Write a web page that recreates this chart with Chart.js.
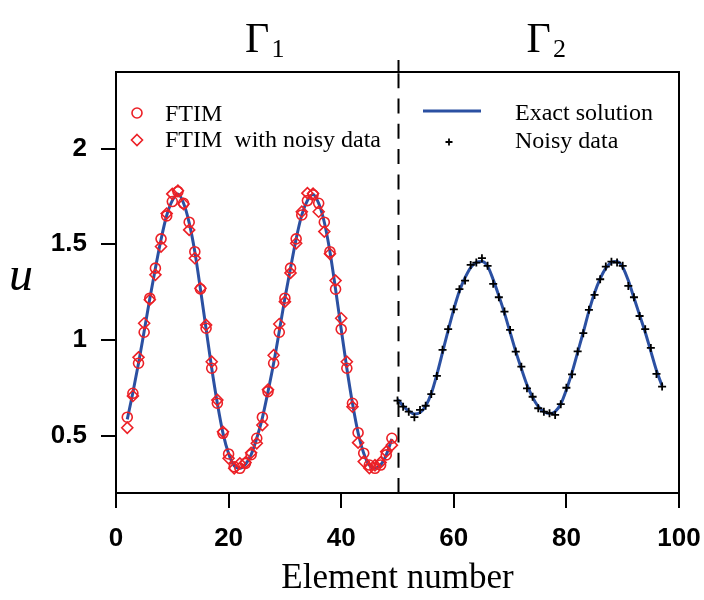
<!DOCTYPE html>
<html>
<head>
<meta charset="utf-8">
<script src="https://cdn.jsdelivr.net/npm/chart.js@4/dist/chart.umd.min.js"></script>
<style>
  html, body { margin: 0; padding: 0; background: #ffffff; }
  #wrap { width: 704px; height: 600px; }
</style>
</head>
<body>
<div id="wrap"><canvas id="c" width="704" height="600"></canvas></div>
<script>
// ---- data ----
const g1Elements = [2,3,4,5,6,7,8,9,10,11,12,13,14,15,16,17,18,19,20,21,22,23,24,25,
                    26,27,28,29,30,31,32,33,34,35,36,37,38,39,40,41,42,43,44,45,46,47,48,49];
const g2Elements = [50,51,52,53,54,55,56,57,58,59,60,61,62,63,64,65,66,67,68,69,70,71,72,73,
                    74,75,76,77,78,79,80,81,82,83,84,85,86,87,88,89,90,91,92,93,94,95,96,97];

const exactG1 = [0.585,0.725,0.878,1.045,1.215,1.375,1.525,1.65,1.728,1.762,1.714,1.612,1.461,1.265,1.058,0.852,0.669,0.513,0.406,0.342,0.329,0.35,0.40,0.486,
                 0.593,0.73,0.878,1.045,1.218,1.375,1.528,1.653,1.728,1.76,1.714,1.615,1.461,1.265,1.056,0.852,0.669,0.515,0.408,0.346,0.329,0.346,0.399,0.482];
const exactG2 = [0.69,0.655,0.628,0.613,0.62,0.655,0.72,0.82,0.935,1.05,1.16,1.255,1.325,1.378,1.405,1.41,1.385,1.315,1.23,1.14,1.04,0.94,0.85,0.765,
                 0.70,0.652,0.625,0.615,0.625,0.665,0.74,0.83,0.935,1.04,1.15,1.245,1.32,1.375,1.405,1.41,1.38,1.31,1.22,1.13,1.04,0.94,0.84,0.76];

const ftim = [0.596,0.721,0.878,1.04,1.218,1.375,1.528,1.648,1.723,1.775,1.714,1.615,1.461,1.266,1.061,0.852,0.669,0.512,0.404,0.337,0.329,0.355,0.40,0.486,
              0.596,0.73,0.878,1.04,1.218,1.375,1.528,1.653,1.728,1.758,1.714,1.615,1.461,1.265,1.056,0.852,0.669,0.515,0.408,0.346,0.329,0.346,0.399,0.486];
const ftimNoisy = [0.541,0.707,0.909,1.087,1.21,1.34,1.488,1.66,1.763,1.78,1.71,1.575,1.427,1.27,1.078,0.886,0.686,0.52,0.381,0.329,0.355,0.36,0.41,0.46,
                   0.555,0.74,0.92,1.083,1.2,1.35,1.505,1.67,1.767,1.765,1.67,1.566,1.45,1.31,1.113,0.886,0.651,0.463,0.364,0.33,0.345,0.36,0.416,0.45];
const noisyData = [0.683,0.651,0.625,0.596,0.634,0.656,0.717,0.812,0.948,1.056,1.16,1.265,1.31,1.392,1.404,1.427,1.387,1.293,1.223,1.148,1.052,0.939,0.86,0.747,
                   0.703,0.643,0.625,0.617,0.608,0.664,0.75,0.82,0.94,1.035,1.157,1.235,1.317,1.383,1.409,1.404,1.387,1.282,1.223,1.125,1.056,0.958,0.822,0.756];

const xTicks = [0, 20, 40, 60, 80, 100];
const yTicks = [0.5, 1, 1.5, 2];
const yTickLabels = ['0.5', '1', '1.5', '2'];
const seriesNames = ['FTIM', 'FTIM  with noisy data', 'Exact solution', 'Noisy data'];
const boundaryLabels = [['\u0393', '1'], ['\u0393', '2']];
const boundarySplit = 50;
const xTitle = 'Element number';
const yTitle = 'u';

// ---- styling ----
const RED = 'rgb(236,32,38)';
const BLUE = 'rgb(43,80,162)';
const SERIF = '"Liberation Serif", "Times New Roman", serif';
const SANS = '"Liberation Sans", Arial, sans-serif';

const pts = (xs, ys) => xs.map((x, i) => ({ x: x, y: ys[i] }));

const framePlugin = {
  id: 'frame',
  afterDatasetsDraw(chart) {
    const ctx = chart.ctx;
    const a = chart.chartArea;
    const xs = chart.scales.x;
    ctx.save();
    ctx.strokeStyle = '#000';
    ctx.lineWidth = 2;
    ctx.beginPath();
    ctx.moveTo(a.left - 1, a.top);
    ctx.lineTo(a.right, a.top);
    ctx.lineTo(a.right, a.bottom);
    ctx.stroke();
    const xp = Math.round(xs.getPixelForValue(boundarySplit)) + 0.5;
    ctx.setLineDash([15, 10.3]);
    ctx.beginPath();
    ctx.moveTo(xp, a.bottom);
    ctx.lineTo(xp, a.top);
    ctx.stroke();
    ctx.setLineDash([]);
    ctx.beginPath();
    ctx.moveTo(xp, a.top);
    ctx.lineTo(xp, a.top - 12);
    ctx.stroke();
    ctx.restore();
  },
  afterDraw(chart) {
    const ctx = chart.ctx;
    const xs = chart.scales.x;
    ctx.save();
    ctx.fillStyle = '#000';
    const centers = [xs.getPixelForValue(0) + (xs.getPixelForValue(boundarySplit) - xs.getPixelForValue(0)) / 2,
                     xs.getPixelForValue(boundarySplit) + (xs.getPixelForValue(100) - xs.getPixelForValue(boundarySplit)) / 2];
    boundaryLabels.forEach((lab, i) => {
      ctx.font = '42px ' + SERIF;
      const wG = ctx.measureText(lab[0]).width;
      ctx.font = '26px ' + SERIF;
      const wS = ctx.measureText(lab[1]).width;
      const total = wG + 2 + wS;
      const x0 = centers[i] - total / 2 + 8;
      ctx.textAlign = 'left';
      ctx.textBaseline = 'alphabetic';
      ctx.font = '42px ' + SERIF;
      ctx.fillText(lab[0], x0, 52);
      ctx.font = '26px ' + SERIF;
      ctx.fillText(lab[1], x0 + wG + 2, 57);
    });
    ctx.font = 'italic 48px ' + SERIF;
    ctx.textAlign = 'center';
    ctx.fillText(yTitle, 21, 290);

    ctx.font = '24px ' + SERIF;
    ctx.textAlign = 'left';
    ctx.fillText(seriesNames[0], 165, 121);
    ctx.fillText(seriesNames[1], 165, 147);
    ctx.fillText(seriesNames[2], 515, 120);
    ctx.fillText(seriesNames[3], 515, 148);
    ctx.strokeStyle = RED;
    ctx.lineWidth = 1.6;
    ctx.beginPath();
    ctx.arc(137, 113, 5, 0, Math.PI * 2);
    ctx.stroke();
    ctx.beginPath();
    ctx.moveTo(137, 134.5); ctx.lineTo(142.5, 140); ctx.lineTo(137, 145.5); ctx.lineTo(131.5, 140); ctx.closePath();
    ctx.stroke();
    ctx.strokeStyle = BLUE;
    ctx.lineWidth = 3;
    ctx.beginPath();
    ctx.moveTo(423, 111); ctx.lineTo(481, 111);
    ctx.stroke();
    ctx.strokeStyle = '#000';
    ctx.lineWidth = 1.8;
    ctx.beginPath();
    ctx.moveTo(445.5, 142); ctx.lineTo(452.5, 142);
    ctx.moveTo(449, 138.5); ctx.lineTo(449, 145.5);
    ctx.stroke();
    ctx.restore();
  }
};

new Chart(document.getElementById('c'), {
  type: 'scatter',
  data: {
    datasets: [
      { label: seriesNames[2], type: 'line', data: pts(g1Elements, exactG1), borderColor: BLUE, borderWidth: 3,
        pointRadius: 0, cubicInterpolationMode: 'monotone', fill: false, order: 5 },
      { label: seriesNames[2] + ' (2)', type: 'line', data: pts(g2Elements, exactG2), borderColor: BLUE, borderWidth: 3,
        pointRadius: 0, cubicInterpolationMode: 'monotone', fill: false, order: 5 },
      { label: seriesNames[3], data: pts(g2Elements, noisyData), pointStyle: 'cross', pointRadius: 4,
        borderColor: '#000', backgroundColor: '#000', pointBorderWidth: 1.8, showLine: false, order: 3 },
      { label: seriesNames[1], data: pts(g1Elements, ftimNoisy), pointStyle: 'rectRot', pointRadius: 5.5,
        borderColor: RED, backgroundColor: 'rgba(0,0,0,0)', pointBorderWidth: 1.6, showLine: false, order: 2 },
      { label: seriesNames[0], data: pts(g1Elements, ftim), pointStyle: 'circle', pointRadius: 5,
        borderColor: RED, backgroundColor: 'rgba(0,0,0,0)', pointBorderWidth: 1.6, showLine: false, order: 1 }
    ]
  },
  options: {
    responsive: false,
    devicePixelRatio: 1,
    animation: false,
    layout: { padding: { left: 0, top: 72, right: 25, bottom: 0 } },
    plugins: { legend: { display: false }, tooltip: { enabled: false }, title: { display: false } },
    scales: {
      x: {
        type: 'linear', min: 0, max: 100,
        afterBuildTicks: (s) => { s.ticks = xTicks.map(v => ({ value: v })); },
        afterFit: (s) => { s.height = 107; s.paddingLeft = 0; s.paddingRight = 0; },
        grid: { display: true, drawOnChartArea: false, drawTicks: true, tickLength: 15, color: '#000', lineWidth: 2 },
        border: { display: true, color: '#000', width: 2 },
        ticks: { color: '#000', font: { family: SANS, size: 26, weight: 'bold' }, padding: 15, maxRotation: 0, autoSkip: false },
        title: { display: true, text: xTitle, color: '#000', font: { family: SERIF, size: 35 }, padding: { top: 0, bottom: 0 } }
      },
      y: {
        type: 'linear', min: 0.2, max: 2.4,
        afterBuildTicks: (s) => { s.ticks = yTicks.map(v => ({ value: v })); },
        afterFit: (s) => { s.width = 116; s.paddingTop = 0; s.paddingBottom = 0; },
        grid: { display: true, drawOnChartArea: false, drawTicks: true, tickLength: 15, color: '#000', lineWidth: 2 },
        border: { display: true, color: '#000', width: 2 },
        ticks: { color: '#000', font: { family: SANS, size: 26, weight: 'bold' }, padding: 14,
                 callback: (v) => { const i = yTicks.indexOf(v); return i >= 0 ? yTickLabels[i] : ''; } }
      }
    }
  },
  plugins: [framePlugin]
});
</script>
</body>
</html>
